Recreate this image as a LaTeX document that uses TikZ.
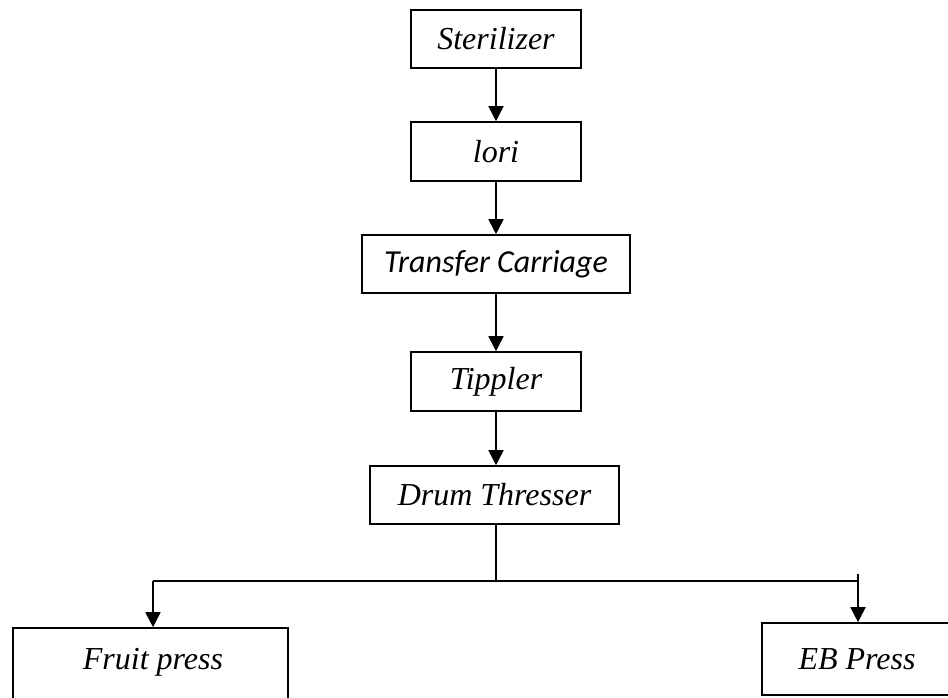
\documentclass[tikz,border=0pt]{standalone}
\usepackage{fontspec}
\setmainfont{Liberation Serif}
\newfontfamily\serfont{Liberation Serif}
\newfontfamily\calfont{Carlito}
\usetikzlibrary{arrows.meta}
\begin{document}
\begin{tikzpicture}[x=1pt,y=1pt,
  box/.style={draw,line width=1.6pt,inner sep=0pt,font=\fontsize{32}{38}\serfont\itshape},
  arr/.style={line width=1.8pt,-{Triangle[width=15pt,length=15pt]}},
  trunk/.style={line width=2.6pt}]
\useasboundingbox (0,0) rectangle (948,697);
\node[box,minimum width=170,minimum height=58] (ster) at (496,658) {Sterilizer};
\node[box,minimum width=170,minimum height=59] (lori) at (496,545.5) {lori};
\node[box,minimum width=268,minimum height=58,font=\fontsize{32}{38}\calfont\itshape] (trans) at (496,433) {Transfer Carriage};
\node[box,minimum width=170,minimum height=59] (tipp) at (496,315.5) {Tippler};
\node[box,minimum width=249,minimum height=58] (drum) at (494.5,202) {Drum Thresser};
\node[box,minimum width=275,minimum height=72] (fruit) at (150.5,33) {};
\node[font=\fontsize{32}{38}\serfont\itshape] (fruitlbl) at (153,35) {Fruit press};
\node[box,minimum width=190,minimum height=72] (eb) at (857,38) {EB Press};
\coordinate (j) at (496,116);
\coordinate (jl) at (153,116);
\coordinate (jr) at (858,116);
\coordinate (jrt) at (858,123);
\draw[arr] (ster.south) -- (lori.north);
\draw[arr] (lori.south) -- (trans.north);
\draw[arr] (trans.south) -- (tipp.north);
\draw[arr] (tipp.south) -- (drum.north -| tipp.south);
\draw[trunk] (drum.south -| j) -- (j);
\draw[trunk] (jl) -- (jr);
\draw[arr] (jl) -- (jl |- fruit.north);
\draw[arr] (jrt) -- (jr |- eb.north);
\end{tikzpicture}
\end{document}
